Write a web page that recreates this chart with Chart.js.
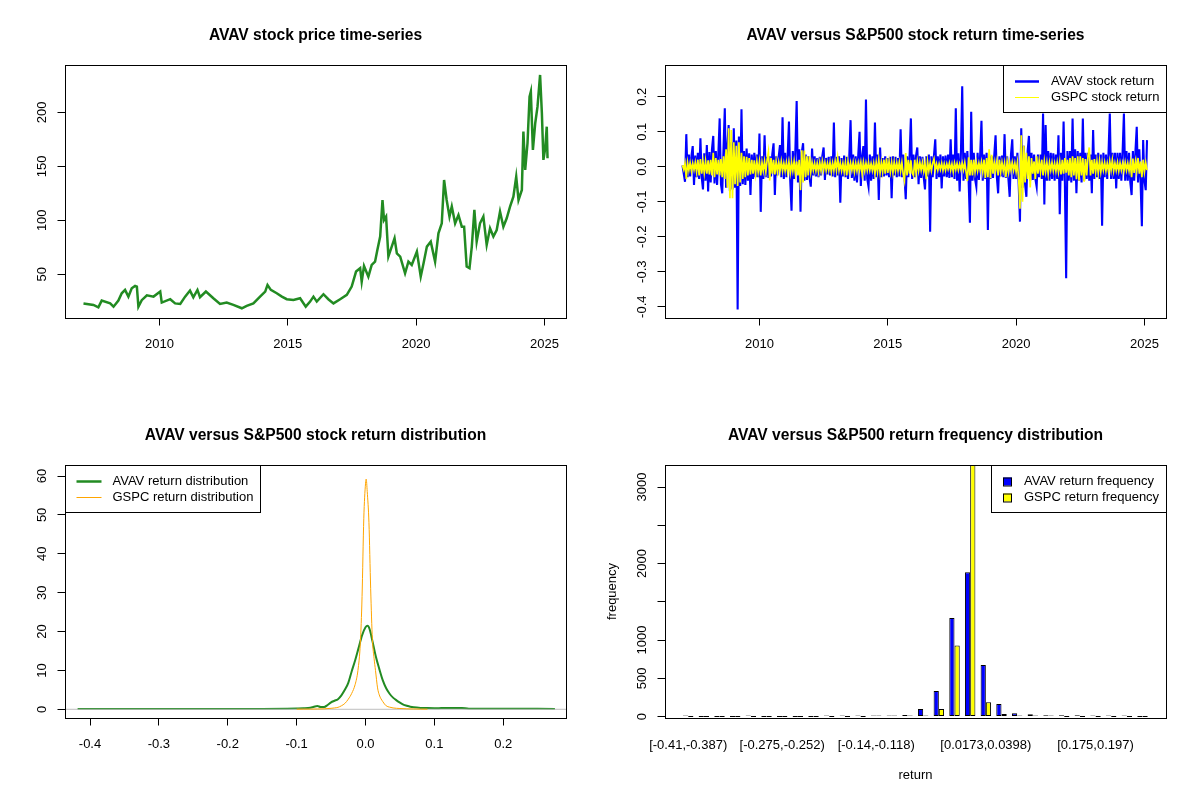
<!DOCTYPE html>
<html>
<head>
<meta charset="utf-8">
<script src="https://cdn.jsdelivr.net/npm/chart.js@4.4.1/dist/chart.umd.min.js"></script>
<style>
  body { margin: 0; background: #fff; }
  #wrap { position: relative; width: 1200px; height: 800px; }
  .panel { position: absolute; width: 600px; height: 400px; }
</style>
</head>
<body>
<div id="wrap">
  <div class="panel" style="left:0;top:0"><canvas id="priceChart" width="600" height="400"></canvas></div>
  <div class="panel" style="left:600px;top:0"><canvas id="returnChart" width="600" height="400"></canvas></div>
  <div class="panel" style="left:0;top:400px"><canvas id="densChart" width="600" height="400"></canvas></div>
  <div class="panel" style="left:600px;top:400px"><canvas id="freqChart" width="600" height="400"></canvas></div>
</div>
<script>
// AVAV close price (decimal year / USD)
const priceYears = [2007.04,2007.43,2007.62,2007.75,2008.08,2008.21,2008.40,2008.53,2008.66,2008.79,
  2008.92,2009.05,2009.12,2009.18,2009.31,2009.51,2009.77,2010.03,2010.09,2010.42,
  2010.61,2010.81,2011.00,2011.19,2011.32,2011.48,2011.58,2011.81,2012.10,2012.36,
  2012.62,2012.88,2013.21,2013.40,2013.66,2013.92,2014.12,2014.21,2014.34,2014.57,
  2014.77,2014.96,2015.22,2015.48,2015.70,2015.87,2016.00,2016.13,2016.39,2016.58,
  2016.78,2017.04,2017.30,2017.49,2017.66,2017.82,2017.88,2017.97,2018.14,2018.27,
  2018.40,2018.49,2018.60,2018.69,2018.75,2018.83,2018.92,2019.05,2019.16,2019.25,
  2019.38,2019.57,2019.70,2019.83,2020.03,2020.18,2020.29,2020.42,2020.57,2020.74,
  2020.87,2021.00,2021.09,2021.19,2021.30,2021.39,2021.52,2021.65,2021.78,2021.87,
  2021.97,2022.08,2022.17,2022.27,2022.36,2022.49,2022.62,2022.75,2022.88,2023.01,
  2023.14,2023.27,2023.40,2023.53,2023.66,2023.79,2023.90,2023.99,2024.12,2024.18,
  2024.25,2024.34,2024.42,2024.47,2024.55,2024.64,2024.73,2024.83,2024.90,2024.96,
  2025.03,2025.09,2025.12];
const prices = [23,21.6,19.4,25.6,23,20,25.6,32.4,35.5,29.3,
  37,39.2,38.5,20,26,30.5,29.3,34,23.8,26.9,
  23,22.5,29.3,34.9,28.7,35.5,28.7,34,27.8,22.5,
  23.8,21.6,18.5,20.7,23,29.3,34,40.1,35.5,32.4,
  29.3,26.9,26.2,27.8,20,24.7,29.3,24.7,31.5,26.9,
  23,26.9,30.9,38.6,52.5,55.6,43.2,57.7,47.8,58.6,
  61.7,72.5,84.9,118.8,100.3,103.4,66.4,75.6,83.3,69.4,
  66.4,50.9,61.7,58.6,71,47.8,60.2,75.6,80.2,61.7,
  88,97.2,137.3,118.8,103.4,112.7,97.2,104.9,94.1,94.1,
  57.1,55.6,75.6,109.6,80.2,97.2,103.4,77.2,92.6,84.9,
  91,108,94.1,101.9,112.7,121.9,140.4,118.8,128.1,182.1,
  146.6,171.3,214.5,219.1,165.1,189.8,205.2,234.6,199.1,155.9,
  166.7,186.7,157.4];

// returns, one reading every 0.05 yr from 2007.0
const retStart = 2007, retStep = 0.05;
const avavReturns = [
  0.004,-0.02,-0.043,0.093,-0.03,0.035,-0.028,0.03,0.059,-0.052,0.032,-0.03,0.04,-0.035,0.081,-0.03,-0.065,0.038,-0.04,0.062,
  -0.071,0.042,-0.045,0.05,0.088,-0.048,0.045,-0.052,0.04,0.138,-0.05,-0.076,0.055,0.167,-0.06,0.062,0.119,-0.07,0.07,-0.065,
  0.11,-0.06,0.075,-0.408,0.086,-0.055,0.164,-0.05,0.045,-0.052,0.052,-0.04,0.038,-0.081,0.035,-0.035,0.04,-0.03,0.035,-0.03,
  0.095,-0.129,0.03,-0.035,0.09,-0.03,0.028,-0.032,0.03,-0.028,0.035,0.067,-0.081,0.03,-0.025,0.028,0.062,-0.03,0.141,-0.035,
  0.04,-0.03,0.035,0.129,-0.04,-0.126,0.045,-0.035,0.05,0.188,-0.045,0.05,-0.129,0.04,0.067,-0.04,0.035,-0.038,0.03,-0.03,
  -0.057,0.052,-0.025,0.03,-0.028,0.025,-0.03,0.028,-0.025,0.03,0.055,-0.038,0.025,-0.022,0.028,-0.025,0.03,-0.028,0.126,-0.03,
  0.028,-0.025,0.03,-0.103,0.025,-0.028,0.032,-0.03,0.028,-0.035,0.03,0.133,-0.032,0.035,-0.04,0.03,-0.045,0.035,0.1,-0.055,
  0.03,0.059,-0.04,0.192,-0.035,-0.057,0.035,-0.04,0.03,-0.035,0.126,-0.03,0.035,-0.095,0.055,-0.03,0.025,-0.028,0.03,-0.025,
  0.025,-0.03,0.028,-0.09,0.03,-0.025,0.028,-0.03,0.025,-0.028,0.107,-0.03,0.035,-0.028,-0.093,0.03,-0.03,0.032,0.138,-0.035,
  0.035,-0.03,0.03,0.055,-0.05,0.03,-0.032,0.028,-0.03,-0.065,0.03,-0.028,0.035,-0.186,0.03,-0.03,0.032,0.078,-0.035,0.03,
  -0.03,0.035,-0.062,0.03,-0.028,0.032,-0.03,0.035,-0.032,0.078,-0.03,0.035,-0.035,0.167,-0.04,0.038,-0.071,0.04,0.23,-0.04,
  0.04,-0.035,0.045,-0.04,-0.16,0.157,-0.04,0.04,-0.035,-0.057,0.04,-0.038,0.035,0.131,-0.04,0.035,-0.035,0.04,-0.181,0.035,
  -0.035,0.03,-0.032,0.035,0.09,-0.03,-0.076,0.03,-0.028,0.032,-0.03,0.093,-0.032,0.03,-0.035,-0.086,0.035,0.078,-0.035,0.03,
  -0.035,0.04,-0.05,-0.157,0.11,-0.06,0.06,-0.05,-0.086,0.045,0.088,-0.04,0.04,-0.038,0.035,-0.035,-0.057,0.035,-0.03,0.035,
  -0.035,0.152,-0.108,0.119,-0.04,0.045,-0.04,0.04,-0.035,0.038,-0.04,0.035,-0.035,0.09,-0.136,0.04,-0.04,0.129,-0.045,-0.319,
  0.045,-0.04,0.045,-0.045,0.138,-0.04,0.05,-0.076,0.045,-0.04,0.04,-0.045,0.138,-0.04,0.04,-0.035,0.04,-0.04,0.035,-0.076,
  0.105,-0.035,0.035,-0.03,0.04,-0.035,0.035,-0.169,0.04,-0.03,0.035,-0.035,0.04,0.152,-0.035,0.04,-0.035,0.04,-0.062,0.04,
  -0.035,0.04,-0.04,0.045,0.152,-0.04,0.045,-0.04,0.04,-0.045,-0.081,0.045,-0.04,0.045,0.114,-0.045,0.05,-0.045,-0.17,0.076,
  -0.04,-0.067,0.076];
const gspcReturns = [
  0.004,-0.008,0.01,-0.035,0.012,-0.01,0.011,-0.012,0.01,-0.009,0.012,-0.015,0.02,-0.025,0.022,-0.02,0.015,-0.018,0.016,-0.02,
  0.018,-0.022,0.02,-0.025,0.04,-0.03,0.025,-0.022,0.02,-0.025,0.022,-0.03,0.03,-0.035,0.05,-0.06,0.11,-0.09,0.105,-0.09,
  0.07,-0.05,0.06,-0.055,0.07,-0.045,0.04,-0.035,0.03,-0.03,0.028,-0.025,0.025,-0.022,0.02,-0.02,0.018,-0.02,0.015,-0.015,
  0.015,-0.025,0.012,-0.012,0.015,-0.015,0.02,0.043,-0.039,0.025,-0.02,0.02,-0.022,0.015,-0.015,0.012,-0.013,0.015,-0.012,0.01,
  -0.012,0.012,-0.015,0.013,-0.018,0.012,-0.012,0.015,-0.02,0.015,-0.025,0.02,-0.067,0.047,-0.045,0.046,-0.03,0.03,-0.025,0.03,
  -0.015,0.012,-0.01,0.01,-0.012,0.01,-0.015,0.012,-0.012,0.015,-0.01,0.012,-0.011,0.01,-0.01,0.012,-0.015,0.011,-0.01,0.016,
  -0.01,0.025,-0.01,0.01,-0.012,0.01,-0.015,0.012,-0.025,0.015,-0.012,0.01,-0.01,0.012,-0.015,0.01,-0.012,0.011,-0.01,0.012,
  -0.02,0.012,-0.012,0.01,-0.01,0.012,-0.01,0.009,-0.011,0.01,-0.02,0.012,-0.015,0.02,-0.018,0.012,-0.015,0.02,-0.02,0.024,
  -0.018,0.015,-0.015,0.012,-0.017,0.013,-0.012,0.011,-0.012,0.013,-0.012,0.012,-0.021,-0.04,0.039,-0.025,0.02,-0.02,0.018,-0.018,
  -0.025,0.02,-0.018,0.015,-0.012,0.012,-0.01,0.012,-0.013,0.01,-0.036,0.015,-0.012,0.01,-0.012,0.01,0.022,-0.01,0.008,-0.01,
  0.008,-0.008,0.01,-0.011,0.008,-0.01,0.008,-0.007,0.01,-0.01,0.008,-0.015,0.01,-0.008,0.009,-0.01,0.008,-0.008,0.01,-0.009,
  0.012,-0.015,-0.041,0.027,-0.025,0.02,-0.025,0.02,-0.015,0.012,-0.012,0.01,-0.01,0.012,-0.015,0.02,-0.032,0.025,-0.03,0.05,
  -0.033,0.034,-0.02,0.012,-0.012,0.015,-0.025,0.02,-0.015,0.012,-0.012,0.01,-0.03,0.015,-0.015,0.012,-0.01,0.012,-0.01,0.01,
  -0.015,0.012,-0.035,-0.12,0.09,-0.1,0.06,-0.045,0.04,-0.035,0.03,-0.059,0.025,-0.02,0.015,-0.035,0.03,-0.02,0.016,-0.015,
  0.02,-0.025,0.015,-0.015,0.012,-0.02,0.012,-0.01,0.012,-0.012,0.01,-0.013,0.012,-0.015,0.014,-0.022,0.02,-0.02,0.025,-0.017,
  0.02,-0.025,0.025,-0.03,0.03,-0.025,0.025,-0.036,0.03,-0.04,0.03,-0.025,0.025,-0.043,0.022,-0.025,0.03,0.055,-0.025,0.02,
  -0.02,0.022,-0.015,0.015,-0.018,0.017,-0.015,0.012,-0.01,0.012,-0.012,0.01,-0.013,0.015,-0.01,0.019,-0.012,0.01,-0.01,0.012,
  -0.012,0.011,-0.01,0.01,-0.012,0.012,-0.01,0.01,-0.012,0.012,-0.03,0.023,-0.018,0.015,-0.012,0.025,-0.02,0.015,-0.03,0.02,
  -0.015,0.012,-0.01];

// kernel densities of the returns
const avavDensX = [-0.418,-0.35,-0.3,-0.25,-0.2,-0.15,-0.1,-0.09,-0.08,-0.075,-0.07,-0.065,-0.06,-0.055,-0.05,
  -0.045,-0.04,-0.035,-0.03,-0.025,-0.02,-0.015,-0.01,-0.005,0,0.003,0.006,0.01,0.015,0.02,
  0.025,0.03,0.035,0.04,0.045,0.05,0.055,0.06,0.065,0.07,0.08,0.09,0.1,0.11,0.12,0.13,0.14,0.15,0.2,0.275];
const avavDens = [0.1,0.1,0.1,0.1,0.1,0.1,0.2,0.25,0.4,0.65,0.85,0.6,0.6,1.1,1.8,
  2.2,2.6,3.6,5.0,6.8,9.8,12.6,15.8,19.0,21.1,21.5,20.6,17.6,13.6,10.4,
  7.5,5.4,4.0,3.0,2.3,1.7,1.2,0.9,0.65,0.5,0.35,0.3,0.28,0.3,0.32,0.35,0.33,0.15,0.12,0.1];
const gspcDensX = [-0.1,-0.09,-0.08,-0.07,-0.06,-0.05,-0.045,-0.04,-0.035,-0.03,-0.025,-0.02,-0.015,-0.011,-0.0075,
  -0.005,-0.0025,0,0.001,0.0025,0.005,0.0075,0.01,0.0125,0.0145,0.0175,0.02,0.025,0.03,0.035,
  0.04,0.05,0.06,0.07,0.08,0.09];
const gspcDens = [0.03,0.05,0.05,0.08,0.12,0.25,0.35,0.5,0.9,1.5,2.6,4.1,6.4,10,17,
  29,49,58,59.2,56,48,31,18,13,10,5.5,3.7,2.0,0.9,0.55,
  0.35,0.2,0.12,0.08,0.05,0.03];

// return histogram
const binLabels = ['[-0.41,-0.387)','[-0.387,-0.365)','[-0.365,-0.342)','[-0.342,-0.32)','[-0.32,-0.297)',
  '[-0.297,-0.275)','[-0.275,-0.252)','[-0.252,-0.23)','[-0.23,-0.207)','[-0.207,-0.185)',
  '[-0.185,-0.162)','[-0.162,-0.14)','[-0.14,-0.118)','[-0.118,-0.0951)','[-0.0951,-0.0726)',
  '[-0.0726,-0.0501)','[-0.0501,-0.0276)','[-0.0276,-0.00517)','[-0.00517,0.0173)','[0.0173,0.0398)',
  '[0.0398,0.0622)','[0.0622,0.0847)','[0.0847,0.107)','[0.107,0.13)','[0.13,0.152)',
  '[0.152,0.175)','[0.175,0.197)','[0.197,0.22)','[0.22,0.242)','[0.242,0.265)'];
const avavFreq = [1,0,0,0,1,0,0,0,0,1,9,4,12,7,22,98,336,1290,1885,676,165,44,31,18,18,18,15,3,1,0];
const gspcFreq = [0,0,0,0,0,0,0,0,0,0,0,0,1,2,5,12,101,930,3369,188,35,8,3,1,0,0,0,0,0,0];

// tick values / labels
const yearTicks = [2010, 2015, 2020, 2025];
const priceTicks = [50, 100, 150, 200];
const returnTicks = [-0.4, -0.3, -0.2, -0.1, 0, 0.1, 0.2];
const densYTicks = [0, 10, 20, 30, 40, 50, 60];
const freqTicks = [0, 500, 1000, 1500, 2000, 2500, 3000];
const freqTickLabels = ['0', '500', '1000', '', '2000', '', '3000'];
const binTickIdx = [0, 6, 12, 19, 26];

const FONT = "'Liberation Sans', Arial, Helvetica, sans-serif";
Chart.defaults.font.family = FONT;
Chart.defaults.font.size = 13;
Chart.defaults.color = '#000';

// R style plot furniture
const rTitle = {
  id: 'rTitle',
  afterDraw(chart, args, opts) {
    const { ctx, chartArea: a } = chart;
    ctx.save();
    ctx.font = 'bold 15.6px ' + FONT;
    ctx.fillStyle = '#000';
    ctx.textAlign = 'center';
    ctx.textBaseline = 'middle';
    ctx.fillText(opts.text, (a.left + a.right) / 2, 36);
    ctx.restore();
  }
};
const rBox = {
  id: 'rBox',
  afterDatasetsDraw(chart) {
    const { ctx, chartArea: a } = chart;
    ctx.save();
    ctx.strokeStyle = '#000';
    ctx.lineWidth = 1;
    ctx.strokeRect(Math.round(a.left) + 0.5, Math.round(a.top) + 0.5,
      Math.round(a.right - a.left), Math.round(a.bottom - a.top));
    ctx.restore();
  }
};
const zeroLine = {
  id: 'zeroLine',
  afterDatasetDraw(chart, args, opts) {
    if (args.index !== opts.after) return;
    const { ctx, chartArea: a, scales } = chart;
    const y = scales.y.getPixelForValue(0);
    ctx.save();
    ctx.strokeStyle = '#BEBEBE';
    ctx.lineWidth = 1;
    ctx.beginPath();
    ctx.moveTo(a.left, y);
    ctx.lineTo(a.right, y);
    ctx.stroke();
    ctx.restore();
  }
};
const rLegend = {
  id: 'rLegend',
  afterDraw(chart, args, opts) {
    if (!opts || !opts.pos) return;
    const { ctx, chartArea: a } = chart;
    const sets = chart.data.datasets;
    ctx.save();
    ctx.font = '13px ' + FONT;
    const tw = Math.max(...sets.map(d => ctx.measureText(d.label).width));
    const w = opts.textX + tw + 7, h = 47;
    const x0 = Math.round(opts.pos === 'topright' ? a.right - w : a.left);
    const y0 = Math.round(a.top);
    ctx.fillStyle = '#fff';
    ctx.fillRect(x0, y0, w, h);
    ctx.strokeStyle = '#000';
    ctx.lineWidth = 1;
    ctx.strokeRect(x0 + 0.5, y0 + 0.5, Math.round(w), h);
    sets.forEach((d, i) => {
      const cy = y0 + 16.5 + i * 16;
      if (opts.kind === 'box') {
        ctx.fillStyle = d.backgroundColor;
        ctx.fillRect(x0 + 12, cy - 4, 9, 8);
        ctx.strokeStyle = '#000';
        ctx.lineWidth = 1;
        ctx.strokeRect(x0 + 12.5, cy - 3.5, 8, 8);
      } else {
        ctx.strokeStyle = d.borderColor;
        ctx.lineWidth = opts.widths[i];
        ctx.beginPath();
        ctx.moveTo(x0 + opts.s0, cy);
        ctx.lineTo(x0 + opts.s1, cy);
        ctx.stroke();
      }
      ctx.fillStyle = '#000';
      ctx.textAlign = 'left';
      ctx.textBaseline = 'middle';
      ctx.fillText(d.label, x0 + opts.textX, cy);
    });
    ctx.restore();
  }
};

function xAxis(min, max, vals, fmt, extra) {
  extra = extra || {};
  return Object.assign({
    type: 'linear', min: min, max: max, offset: false,
    afterBuildTicks: s => { s.ticks = vals.map(v => ({ value: v })); },
    afterFit: s => { s.height = 82; },
    grid: { display: true, drawOnChartArea: false, drawTicks: extra.noTicks ? false : true, tickLength: 7.5, color: '#000', lineWidth: 1 },
    border: { display: false },
    ticks: { autoSkip: false, maxRotation: 0, minRotation: 0, padding: extra.pad || 11, callback: fmt }
  }, extra.more || {});
}
function yAxis(min, max, vals, fmt, pad, more) {
  return Object.assign({
    type: 'linear', min: min, max: max,
    afterBuildTicks: s => { s.ticks = vals.map(v => ({ value: v })); },
    afterFit: s => { s.width = 65; },
    grid: { display: true, drawOnChartArea: false, drawTicks: true, tickLength: 7.5, color: '#000', lineWidth: 1 },
    border: { display: false },
    ticks: { autoSkip: false, minRotation: 90, maxRotation: 90, crossAlign: 'center', padding: pad, callback: fmt }
  }, more || {});
}
function baseOptions(title, x, y, legend) {
  return {
    responsive: false,
    devicePixelRatio: 1,
    animation: false,
    layout: { padding: { left: 0, right: 34, top: 65, bottom: 0 } },
    elements: { point: { radius: 0 } },
    plugins: {
      legend: { display: false },
      tooltip: { enabled: false },
      rTitle: { text: title },
      rLegend: legend || {}
    },
    scales: { x: x, y: y }
  };
}
const fmtYear = v => String(v);
const fmt1 = v => v.toFixed(1);

// price time-series
new Chart(document.getElementById('priceChart'), {
  type: 'line',
  data: {
    datasets: [{
      label: 'AVAV stock price',
      data: priceYears.map((t, i) => ({ x: t, y: prices[i] })),
      borderColor: '#228B22', borderWidth: 2.5, tension: 0
    }]
  },
  options: baseOptions('AVAV stock price time-series',
    xAxis(2006.32, 2025.84, yearTicks, fmtYear),
    yAxis(9.5, 243.8, priceTicks, v => String(v), 4.6)),
  plugins: [rBox, rTitle]
});

// return time-series
new Chart(document.getElementById('returnChart'), {
  type: 'line',
  data: {
    datasets: [{
      label: 'AVAV stock return',
      data: avavReturns.map((r, i) => ({ x: retStart + i * retStep, y: r })),
      borderColor: '#0000FF', borderWidth: 2.1, tension: 0, order: 1
    }, {
      label: 'GSPC stock return',
      data: gspcReturns.map((r, i) => ({ x: retStart + i * retStep, y: r })),
      borderColor: '#FFFF00', borderWidth: 1.7, tension: 0, order: 0
    }]
  },
  options: baseOptions('AVAV versus S&P500 stock return time-series',
    xAxis(2006.32, 2025.84, yearTicks, fmtYear),
    yAxis(-0.4323, 0.2906, returnTicks, fmt1, 4.3),
    { pos: 'topright', kind: 'line', s0: 12, s1: 36, textX: 48, widths: [2.5, 1] }),
  plugins: [rBox, rTitle, rLegend]
});

// return densities
const densOpts = baseOptions('AVAV versus S&P500 stock return distribution',
  xAxis(-0.4363, 0.2911, returnTicks, fmt1),
  yAxis(-2.24, 62.83, densYTicks, v => String(v), 8.3),
  { pos: 'topleft', kind: 'line', s0: 11.5, s1: 36.5, textX: 47.5, widths: [2.5, 1] });
densOpts.plugins.zeroLine = { after: 0 };
new Chart(document.getElementById('densChart'), {
  type: 'line',
  data: {
    datasets: [{
      label: 'AVAV return distribution',
      data: avavDensX.map((x, i) => ({ x: x, y: avavDens[i] })),
      borderColor: '#228B22', borderWidth: 2, cubicInterpolationMode: 'monotone', order: 1
    }, {
      label: 'GSPC return distribution',
      data: gspcDensX.map((x, i) => ({ x: x, y: gspcDens[i] })),
      borderColor: '#FFA500', borderWidth: 1, cubicInterpolationMode: 'monotone', order: 0
    }]
  },
  options: densOpts,
  plugins: [zeroLine, rBox, rTitle, rLegend]
});

// return frequency histogram
const barStyle = { borderColor: '#000', borderWidth: 1, borderSkipped: false, minBarLength: 1,
  categoryPercentage: 2 / 3, barPercentage: 1 };
new Chart(document.getElementById('freqChart'), {
  type: 'bar',
  data: {
    datasets: [Object.assign({
      label: 'AVAV return frequency',
      data: avavFreq.map((c, i) => ({ x: i, y: c })),
      backgroundColor: '#0000FF'
    }, barStyle), Object.assign({
      label: 'GSPC return frequency',
      data: gspcFreq.map((c, i) => ({ x: i, y: c })),
      backgroundColor: '#FFFF00'
    }, barStyle)]
  },
  options: baseOptions('AVAV versus S&P500 return frequency distribution',
    xAxis(-1.48, 30.5, binTickIdx, v => binLabels[v], {
      noTicks: true, pad: 19.5,
      more: { title: { display: true, text: 'return', font: { size: 13 }, padding: { top: 0, bottom: 17.2 } } }
    }),
    yAxis(-18, 3288, freqTicks, (v, i) => freqTickLabels[i], 1, {
      title: { display: true, text: 'frequency', font: { size: 13 }, padding: { top: 4.2, bottom: 0 } }
    }),
    { pos: 'topright', kind: 'box', textX: 33 }),
  plugins: [rBox, rTitle, rLegend]
});
</script>
</body>
</html>
